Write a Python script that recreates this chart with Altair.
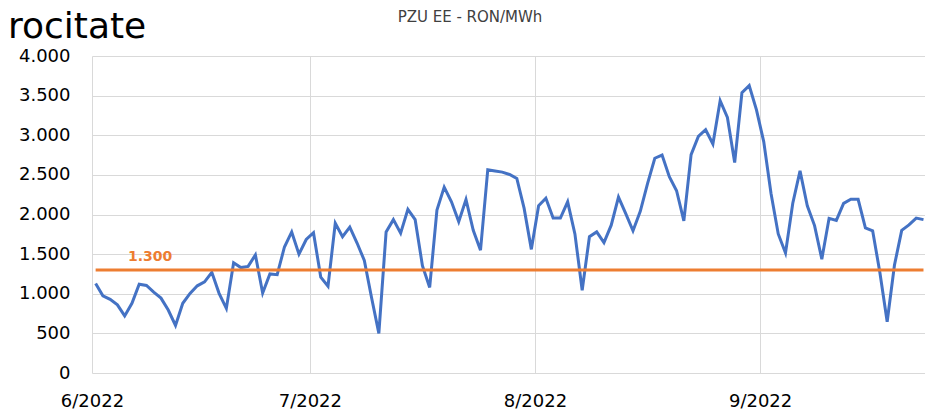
import altair as alt
import pandas as pd

# ---- data ----
start_date = "2022-06-01"
prices = [
    1130, 975, 930, 860, 720, 880, 1120, 1105, 1020, 945,
    795, 600, 880, 1005, 1100, 1150, 1270, 1005, 815, 1390,
    1330, 1345, 1490, 1010, 1250, 1240, 1590, 1780, 1500, 1685,
    1770, 1210, 1095, 1890, 1720, 1840, 1640, 1420, 950, 500,
    1780, 1935, 1765, 2065, 1935, 1355, 1080, 2055, 2345, 2160,
    1910, 2190, 1800, 1550, 2565, 2550, 2535, 2505, 2455, 2080,
    1560, 2110, 2205, 1955, 1955, 2160, 1755, 1045, 1720, 1780,
    1645, 1865, 2220, 2010, 1795, 2040, 2390, 2710, 2750, 2477,
    2300, 1920, 2755, 2985, 3070, 2890, 3436, 3225, 2655, 3537,
    3626, 3320, 2920, 2268, 1755, 1515, 2142, 2550, 2110, 1860,
    1437, 1952, 1925, 2140, 2192, 2192, 1830, 1795, 1265, 647,
    1360, 1800, 1868, 1955, 1935,
]
threshold = 1300
threshold_label = "1.300"
title_text = "PZU EE - RON/MWh"
corner_text = "rocitate"
month_ticks = [(2022, 6), (2022, 7), (2022, 8), (2022, 9)]
y_ticks = [0, 500, 1000, 1500, 2000, 2500, 3000, 3500, 4000]

FONT = "DejaVu Sans"
BLUE = "#4472C4"
ORANGE = "#ED7D31"
GRID = "#D9D9D9"

dates = pd.date_range(start_date, periods=len(prices), freq="D")
mid = dates + pd.Timedelta(hours=12)
df = pd.DataFrame({"date": mid, "price": prices})
thr_df = pd.DataFrame({"date": [mid[0], mid[-1]], "price": [threshold, threshold]})

x_scale = alt.Scale(
    domain=[alt.DateTime(year=2022, month=6, date=1),
            alt.DateTime(year=2022, month=9, date=23, hours=17)]
)
y_scale = alt.Scale(domain=[0, 4000], nice=False)

x_axis = alt.Axis(
    values=[alt.DateTime(year=y, month=m, date=1) for y, m in month_ticks],
    format="%-m/%Y", grid=True, gridColor=GRID, gridWidth=1,
    ticks=False, domain=False, labelFontSize=18, labelPadding=19,
    labelColor="#000000", labelFont=FONT, labelFlush=False,
    labelOverlap=False, title=None,
)
y_axis = alt.Axis(
    values=y_ticks, tickCount=len(y_ticks) + 2,
    labelExpr="replace(format(datum.value, ','), ',', '.')",
    grid=True, gridColor=GRID, gridWidth=1, ticks=False, domain=False,
    labelFontSize=18, labelPadding=22, labelColor="#000000", labelFont=FONT,
    labelOverlap=False, labelFlush=False, title=None,
)

line = alt.Chart(df).mark_line(color=BLUE, strokeWidth=3, clip=True).encode(
    x=alt.X("date:T", scale=x_scale, axis=x_axis),
    y=alt.Y("price:Q", scale=y_scale, axis=y_axis),
)

thr_line = alt.Chart(thr_df).mark_line(color=ORANGE, strokeWidth=3, clip=True).encode(
    x="date:T", y="price:Q"
)

thr_text = alt.Chart(pd.DataFrame({"t": [threshold_label], "v": [threshold]})).mark_text(
    color=ORANGE, fontWeight="bold", fontSize=14, font=FONT, align="left",
    baseline="alphabetic", dy=-9,
).encode(x=alt.value(36), y="v:Q", text="t:N")

title = alt.Chart(pd.DataFrame({"t": [title_text]})).mark_text(
    color="#404040", fontSize=15, font=FONT, align="center", baseline="middle",
).encode(x=alt.value(378), y=alt.value(-39), text="t:N")

corner = alt.Chart(pd.DataFrame({"t": [corner_text]})).mark_text(
    color="#000000", fontSize=36, font=FONT, align="left", baseline="alphabetic",
).encode(x=alt.value(-84), y=alt.value(-18), text="t:N")

chart = alt.layer(line, thr_line, thr_text, title, corner).properties(
    width=833, height=317,
    autosize=alt.AutoSizeParams(type="none"),
    padding={"left": 84, "top": 48, "right": 0, "bottom": 41},
).configure_view(stroke=None)

chart.save("out.html", embed_options={"renderer": "svg", "actions": False})
